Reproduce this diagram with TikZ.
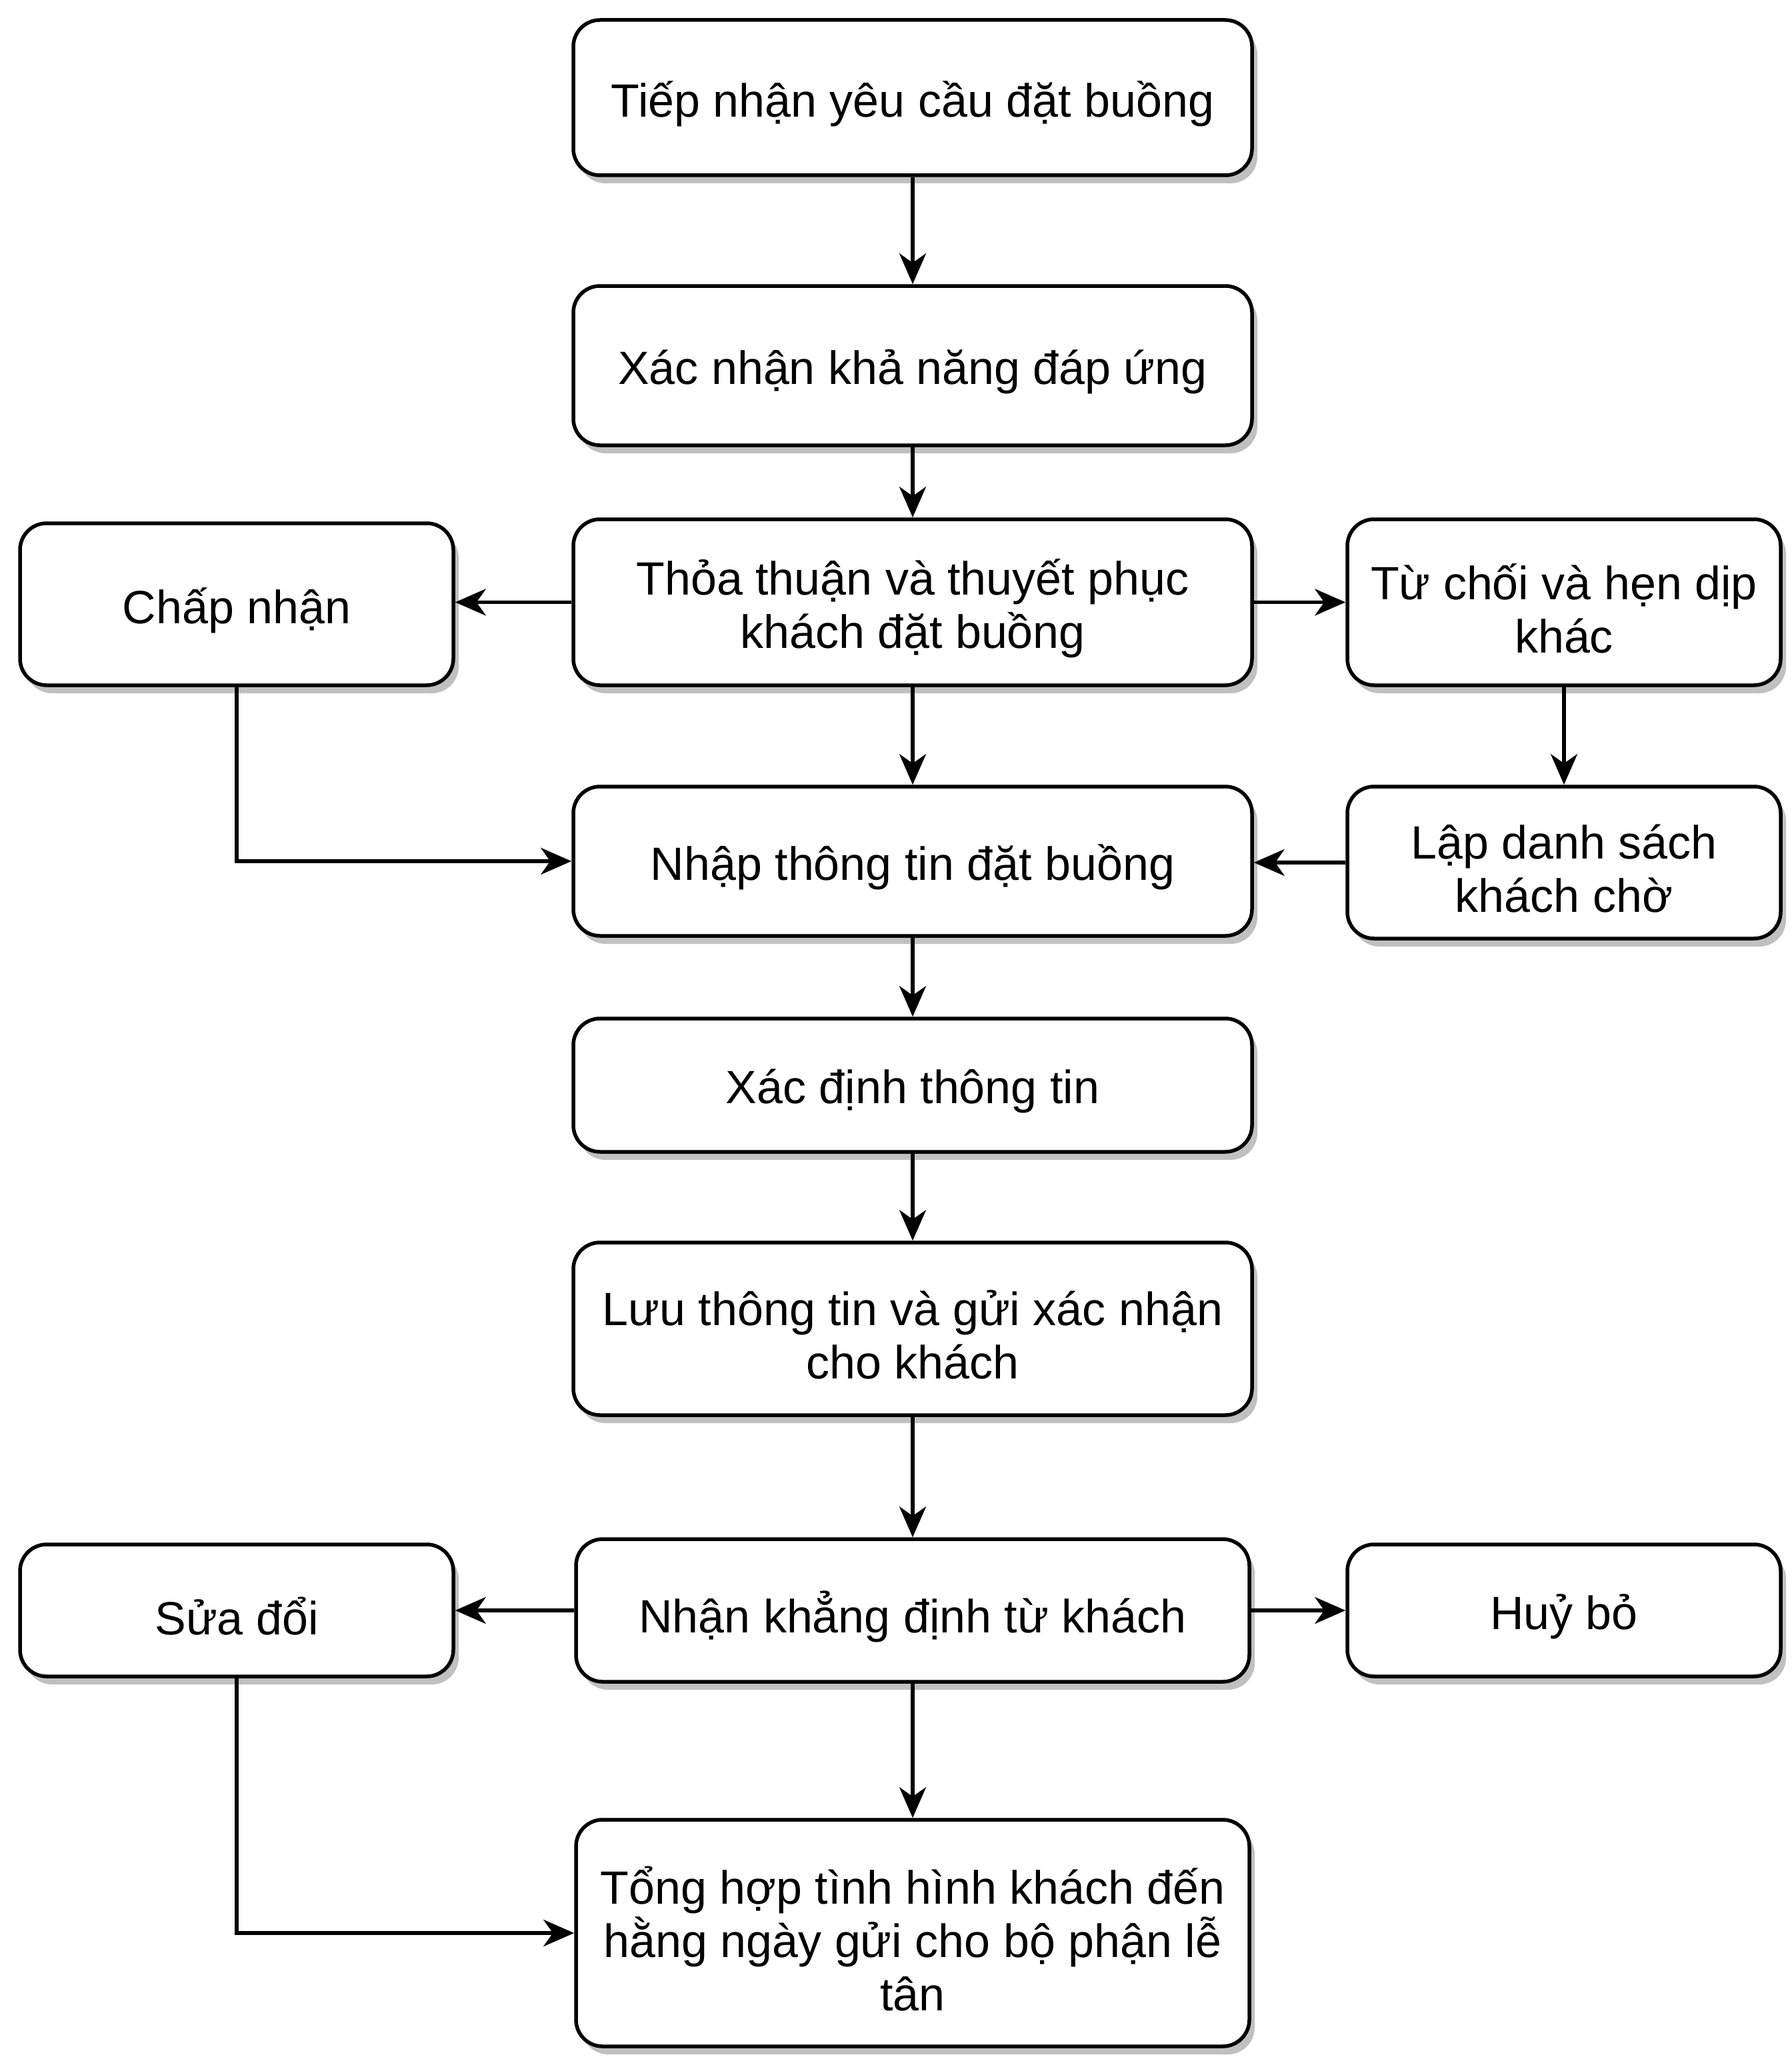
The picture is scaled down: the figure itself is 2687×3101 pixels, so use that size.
\documentclass[tikz,border=0pt]{standalone}
\usepackage{fontspec}
\setmainfont{Liberation Sans}
\usetikzlibrary{shadows,arrows.meta}
\pgfdeclarelayer{bg}
\pgfsetlayers{bg,main}
\definecolor{shadowgray}{HTML}{C0C0C0}
\begin{document}
\begin{tikzpicture}[x=1pt,y=-1pt,
  box/.style={draw=black, line width=5.5pt, rounded corners=40pt, fill=white,
    inner sep=0pt,
    drop shadow={shadow xshift=8pt, shadow yshift=-12pt, fill=shadowgray, opacity=1}},
  lbl/.style={align=center, inner sep=0pt, yshift=-9pt, font=\fontsize{70pt}{80pt}\selectfont},
  arr/.style={draw=black, line width=5.5pt, -{Stealth[length=46pt,width=40pt,inset=14pt]}},
  edgeshadow/.style={draw=shadowgray, line width=5.5pt, -{Stealth[length=46pt,width=40pt,inset=14pt]},
    transform canvas={shift={(7pt,-11pt)}}}]
\useasboundingbox (0,0) rectangle (2687,3101);
\fill[white] (0,0) rectangle (2687,3101);

\node[box, minimum width=1018pt, minimum height=233pt, label={[lbl]center:Tiếp nhận yêu cầu đặt buồng}] (b1) at (1369,146.5) {};
\node[box, minimum width=1018pt, minimum height=239pt, label={[lbl]center:Xác nhận khả năng đáp ứng}] (b2) at (1369,548.5) {};
\node[box, minimum width=1018pt, minimum height=249pt, label={[lbl]center:Thỏa thuận và thuyết phục\\khách đặt buồng}] (b3) at (1369,903.5) {};
\node[box, minimum width=650pt, minimum height=243pt, label={[lbl]center:Chấp nhận}] (l1) at (355,906.5) {};
\node[box, minimum width=650pt, minimum height=249pt, label={[lbl]center:Từ chối và hẹn dịp\\khác}] (r1) at (2346,903.5) {};
\node[box, minimum width=1018pt, minimum height=224pt, label={[lbl]center:Nhập thông tin đặt buồng}] (b4) at (1369,1292) {};
\node[box, minimum width=650pt, minimum height=228pt, label={[lbl]center:Lập danh sách\\khách chờ}] (r2) at (2346,1294) {};
\node[box, minimum width=1018pt, minimum height=200pt, label={[lbl]center:Xác định thông tin}] (b5) at (1369,1628) {};
\node[box, minimum width=1018pt, minimum height=259pt, label={[lbl]center:Lưu thông tin và gửi xác nhận\\cho khách}] (b6) at (1369,1993.5) {};
\node[box, minimum width=1010pt, minimum height=214pt, label={[lbl]center:Nhận khẳng định từ khách}] (b7) at (1369,2416) {};
\node[box, minimum width=650pt, minimum height=198pt, label={[lbl]center:Sửa đổi}] (l2) at (355,2416) {};
\node[box, minimum width=650pt, minimum height=198pt, label={[lbl]center:Huỷ bỏ}] (r3) at (2346,2416) {};
\node[box, minimum width=1010pt, minimum height=340pt, label={[lbl]center:Tổng hợp tình hình khách đến\\hằng ngày gửi cho bộ phận lễ\\tân}] (b8) at (1369,2900) {};

\begin{pgfonlayer}{bg}
\draw[edgeshadow] (b1.south) -- (b2.north);
\draw[edgeshadow] (b2.south) -- (b3.north);
\draw[edgeshadow] (b3.south) -- (b4.north);
\draw[edgeshadow] (b4.south) -- (b5.north);
\draw[edgeshadow] (b5.south) -- (b6.north);
\draw[edgeshadow] (b6.south) -- (b7.north);
\draw[edgeshadow] (b7.south) -- (b8.north);
\draw[edgeshadow] (b3.west) -- (b3.west -| l1.east);
\draw[edgeshadow] (b3.east) -- (b3.east -| r1.west);
\draw[edgeshadow] (r1.south) -- (r2.north);
\draw[edgeshadow] (r2.west) -- (r2.west -| b4.east);
\draw[edgeshadow] (b7.west) -- (l2.east);
\draw[edgeshadow] (b7.east) -- (r3.west);
\draw[edgeshadow] (l2.south) |- (b8.west);
\end{pgfonlayer}

\draw[arr] (b1.south) -- (b2.north);
\draw[arr] (b2.south) -- (b3.north);
\draw[arr] (b3.south) -- (b4.north);
\draw[arr] (b4.south) -- (b5.north);
\draw[arr] (b5.south) -- (b6.north);
\draw[arr] (b6.south) -- (b7.north);
\draw[arr] (b7.south) -- (b8.north);
\draw[arr] (b3.west) -- (b3.west -| l1.east);
\draw[arr] (b3.east) -- (b3.east -| r1.west);
\draw[arr] (l1.south) |- (b4.west);
\draw[arr] (r1.south) -- (r2.north);
\draw[arr] (r2.west) -- (r2.west -| b4.east);
\draw[arr] (b7.west) -- (l2.east);
\draw[arr] (b7.east) -- (r3.west);
\draw[arr] (l2.south) |- (b8.west);
\end{tikzpicture}
\end{document}
